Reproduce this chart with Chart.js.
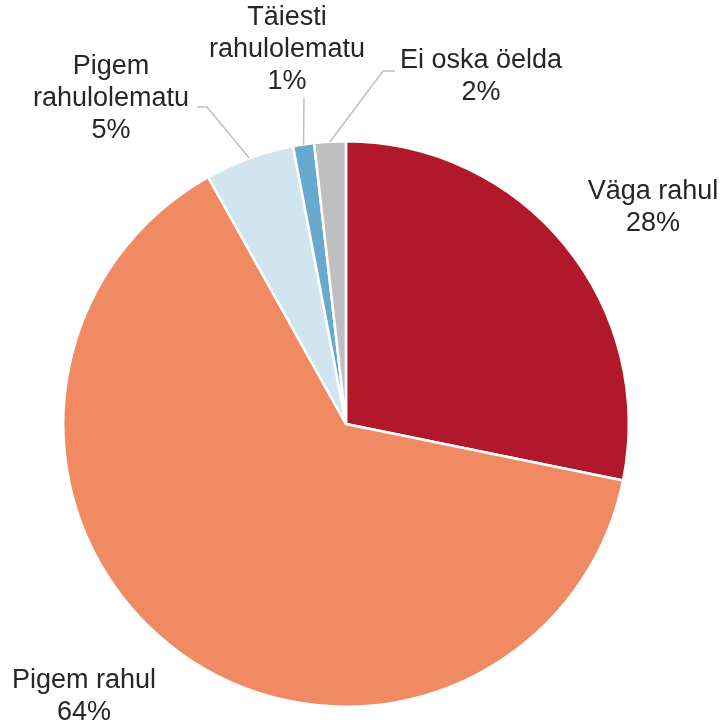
<!DOCTYPE html>
<html>
<head>
<meta charset="utf-8">
<script src="https://cdn.jsdelivr.net/npm/chart.js@4/dist/chart.umd.min.js"></script>
<style>
  html, body { margin: 0; padding: 0; background: #fff; }
  #wrap { width: 722px; height: 725px; }
</style>
</head>
<body>
<div id="wrap"><canvas id="pie"></canvas></div>
<script>
var categories = [['Väga rahul'], ['Pigem rahul'], ['Pigem', 'rahulolematu'], ['Täiesti', 'rahulolematu'], ['Ei oska öelda']]
var values = [28.2, 63.7, 5.1, 1.2, 1.8]
var colors = ['#B2182B', '#EF8A62', '#D1E5F0', '#67A9CF', '#BFBFBF']

// label placement relative to pie centre (first line middle), leader line start if any
var labelPos = [
    {dx: 307, dy: -232},
    {dx: -262, dy: 257},
    {dx: -235, dy: -357, lead: [[-149, -317], [-139, -317]]},
    {dx: -59, dy: -406, lead: [[-42, -326]]},
    {dx: 135, dy: -363, lead: [[49, -353], [37, -353]]}
]

var labelPlugin = {
    id: 'pieLabels',
    afterDatasetsDraw: function(chart) {
        var ctx = chart.ctx
        var arcs = chart.getDatasetMeta(0).data
        ctx.save()
        arcs.forEach(function(arc, i) {
            var p = arc.getProps(['x', 'y', 'startAngle', 'endAngle', 'outerRadius'], true)
            var mid = (p.startAngle + p.endAngle) / 2
            var pos = labelPos[i]
            if (pos.lead) {
                ctx.strokeStyle = '#BFBFBF'
                ctx.lineWidth = 1.5
                ctx.beginPath()
                ctx.moveTo(p.x + pos.lead[0][0], p.y + pos.lead[0][1])
                for (var k = 1; k < pos.lead.length; k++) {
                    ctx.lineTo(p.x + pos.lead[k][0], p.y + pos.lead[k][1])
                }
                ctx.lineTo(p.x + Math.cos(mid) * p.outerRadius, p.y + Math.sin(mid) * p.outerRadius)
                ctx.stroke()
            }
            var lines = categories[i].concat([Math.round(values[i]) + '%'])
            ctx.fillStyle = '#262626'
            ctx.font = '27px "Liberation Sans", Arial, sans-serif'
            ctx.textAlign = 'center'
            ctx.textBaseline = 'middle'
            lines.forEach(function(t, j) {
                ctx.fillText(t, p.x + pos.dx, p.y + pos.dy + j * 32)
            })
        })
        ctx.restore()
    }
}

var ctx = document.getElementById('pie')
var chartPie = new Chart(ctx, {
    type: 'pie',
    data: {
        labels: categories.map(function(c) { return c.join(' ') }),
        datasets: [{
            data: values,
            backgroundColor: colors,
            borderColor: '#FFFFFF',
            borderWidth: 2.5
        }]
    },
    options: {
        responsive: true,
        maintainAspectRatio: false,
        animation: false,
        layout: {
            padding: {left: 62, top: 140, right: 92, bottom: 17}
        },
        plugins: {
            legend: { display: false },
            tooltip: { enabled: false }
        }
    },
    plugins: [labelPlugin]
})
</script>
</body>
</html>
